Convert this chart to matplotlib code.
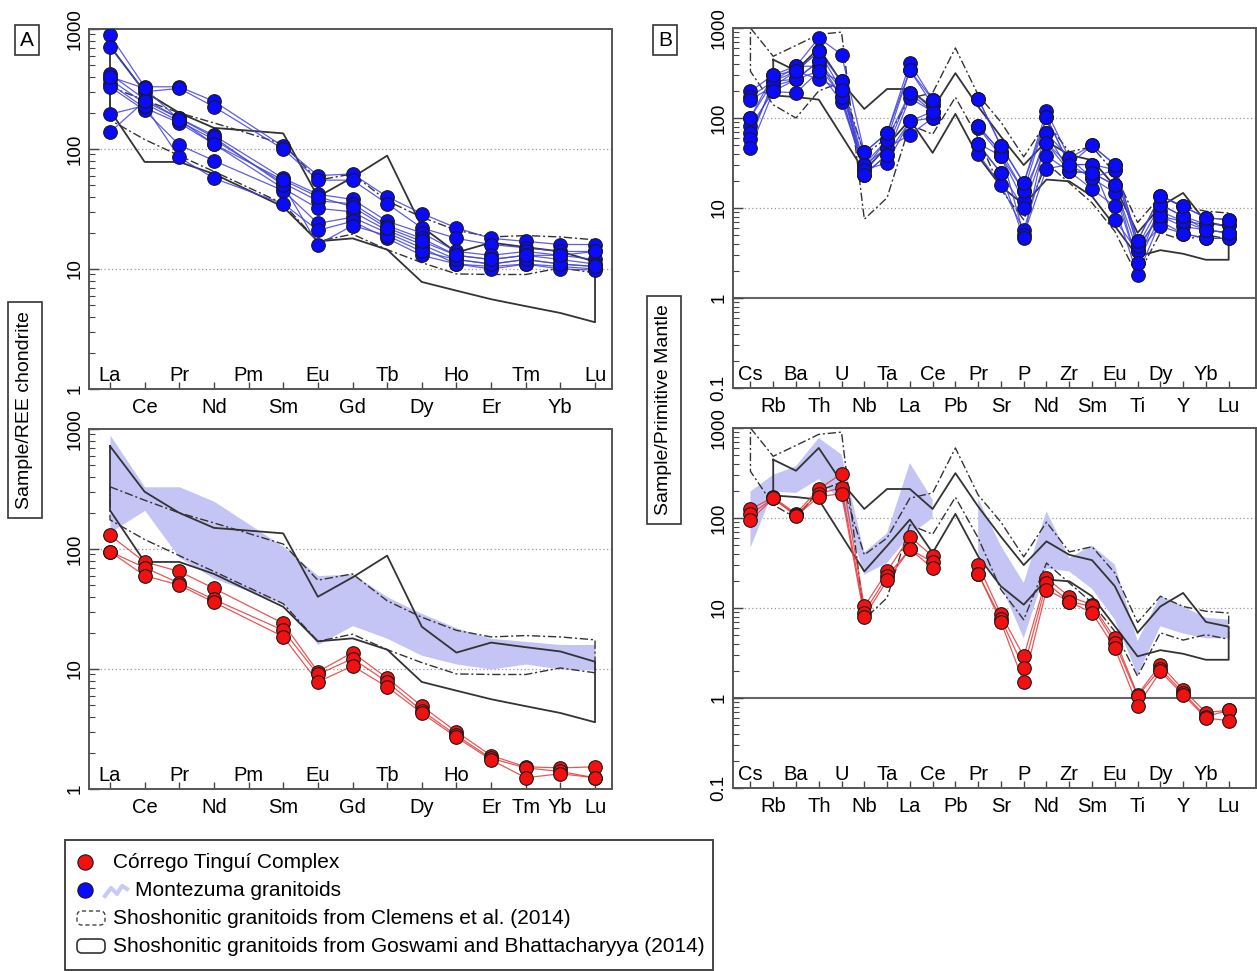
import numpy as np
import matplotlib.pyplot as plt
from matplotlib.ticker import LogLocator, NullFormatter
from matplotlib.patches import Rectangle, FancyBboxPatch

plt.rcParams['font.family'] = ['Liberation Sans', 'DejaVu Sans']

nan = np.nan
W, H = 1257, 971

# ---------------- REE, chondrite normalised (panel A) ----------------
ree = ['La', 'Ce', 'Pr', 'Nd', 'Pm', 'Sm', 'Eu', 'Gd', 'Tb', 'Dy', 'Ho', 'Er', 'Tm', 'Yb', 'Lu']

# Montezuma granitoids
mz_ree = [
    [890, 330, 330, 250, nan, 105, 60, 62, 40, 29, 22, 18, 17, 16, 16],
    [710, 300, 320, 225, nan, 100, 55, 55, 35, 22, 18, 16, 15, 14, 14],
    [420, 260, 180, 130, nan, 57, 42, 38, 25, 20, 14, 13, 14, 13, 12],
    [380, 240, 170, 120, nan, 52, 37, 35, 23, 18, 13, 12, 13, 12, 11],
    [350, 220, 165, 110, nan, 47, 32, 30, 21, 16, 12, 11, 12, 11, 10.5],
    [330, 210, 108, 80, nan, 45, 24, 27, 20, 15, 11, 10.5, 11, 10.5, 10],
    [195, 230, 85, 57, nan, 35, 21, 25, 18, 13, 11, 10, 11, 10, 9.8],
    [138, 250, 180, 125, nan, 50, 16, 23, 19, 14, 12, 11, 12, 11, 10.5],
    [400, 320, 175, 110, nan, 55, 40, 33, 22, 17, 13, 12, 13, 13, 14],
]

# Corrego Tingui Complex
ct_ree = [
    [130, 78, 65, 47, nan, 24, 9.5, 13.7, 8.4, 4.9, 3.0, 1.9, 1.53, 1.5, 1.53],
    [95, 70, 52, 38, nan, 21, 9.0, 12.2, 7.8, 4.5, 2.8, 1.8, 1.5, 1.4, 1.24],
    [95, 60, 50, 36, nan, 18.6, 7.8, 10.6, 7.1, 4.3, 2.7, 1.75, 1.24, 1.34, 1.24],
]

# envelopes (upper / lower)
cl_ree_hi = [330, 255, 200, 165, nan, 110, 55, 62, 37, 27, 21, 18.5, 19, 18.5, 17.5]
cl_ree_lo = [175, 120, 88, 65, nan, 35, 17, 19.5, 14.5, 11.3, 9.1, 9, 9, 10.2, 9.3]
gb_ree_hi = [720, 300, 200, 150, nan, 135, 40, 58, 88, 22.5, 13.7, 16.6, 15.2, 14, 11.5]
gb_ree_lo = [210, 78, 78, 62, nan, 33, 17, 18, 14.5, 7.8, 6.6, 5.6, 4.9, 4.3, 3.6]

# ---------------- Spider, primitive mantle normalised (panel B) ----------------
spd = ['Cs', 'Rb', 'Ba', 'Th', 'U', 'Nb', 'Ta', 'La', 'Ce', 'Pb', 'Pr',
       'Sr', 'P', 'Nd', 'Zr', 'Sm', 'Eu', 'Ti', 'Dy', 'Y', 'Yb', 'Lu']

mz_spd = [
    [197, 302, 376, 775, 507, 41.5, 68, 407, 160, nan, 164, 49, 19, 119, 36, 49.5, 30.4, 4.3, 13.7, 10.4, 7.8, 7.4],
    [173, 255, 330, 550, 255, 30.4, 57.5, 339, 140, nan, 81, 42.4, 15.3, 101.7, 30.4, 30.4, 26.7, 3.74, 10.9, 8.1, 6.6, 6.5],
    [160, 225, 270, 425, 205, 26.7, 46.5, 190, 118, nan, 78, 38, 11.9, 68, 25.5, 24.5, 18, 3.3, 9.2, 7.1, 5.7, 5.3],
    [101, 255, 376, 376, 173, 23.5, 39.2, 167, 118, nan, 50.5, 24.5, 10, 52.6, 30.4, 21.5, 14.7, 2.45, 8.1, 6.25, 5.7, 5.3],
    [81, 197, 190, 330, 152, 26.7, 31.6, 92, 100, nan, 40, 18, 5.7, 38, 25.5, 16.3, 10.4, 1.8, 7.1, 5.2, 4.6, 4.6],
    [68, 225, 330, 270, 205, 30.4, 46.5, 65, 100, nan, 81, 42, 5.05, 27.3, 30.4, 30.4, 7.4, 3.3, 6.25, 5.2, 4.6, 4.6],
    [58, 255, 270, 425, 173, 26.7, 57.5, 190, 140, nan, 52, 24.5, 4.6, 68, 36, 21.5, 26.7, 3.74, 8.1, 7.1, 6.6, 6.5],
    [46.5, 197, 270, 330, 255, 23.5, 39.2, 92, 118, nan, 52, 38, 15.3, 52.6, 25.5, 24.5, 18, 2.45, 10.9, 8.1, 5.7, 5.3],
    [101, 302, 330, 550, 205, 41.5, 68, 339, 160, nan, 164, 49, 19, 101.7, 30.4, 49.5, 30.4, 4.3, 13.7, 10.4, 7.8, 7.4],
]

ct_spd = [
    [125, 170, 112, 210, 310, 10.4, 25.5, 62, 37.5, nan, 30, 8.5, 2.9, 21.5, 13.4, 10.9, 4.6, 1.09, 2.35, 1.24, 0.69, 0.73],
    [110, 165, 108, 187, 217, 8.9, 22.5, 45, 32.4, nan, 24, 7.6, 2.15, 19, 11.8, 10.4, 4.1, 1.05, 2.1, 1.15, 0.62, 0.73],
    [95, 165, 105, 172, 187, 8.0, 20.3, 45, 27.8, nan, 24, 7.0, 1.49, 16, 11.8, 8.8, 3.6, 0.82, 1.97, 1.09, 0.6, 0.56],
]

cl_spd_hi = [1000, 485, 640, 850, 900, 7.5, 13, 84, 66, 170, 60, 16, 7.4, 31.6, 19, 11.4, 5.5, 1.74, 5.3, 4.4, 5.05, 4.5]
cl_spd_lo = [330, 140, 100, 200, 250, 39, 60, 166, 190, 600, 180, 90, 37, 90, 42, 48, 24.5, 6.9, 13.5, 10.4, 9.2, 8.8]
gb_spd_hi = [nan, 445, 335, 600, 250, 126, 210, 210, 126, 315, 134, 62, 30, 55, 39, 34, 17.5, 5.3, 10.4, 14.7, 7, 6.2]
gb_spd_lo = [nan, 178, 171, 160, 64, 25.5, 49, 96, 41, 111, 37.5, 17.4, 10.9, 20.7, 19.8, 13.5, 6.3, 2.9, 3.4, 3.1, 2.66, 2.66]

# ---------------- styles ----------------
blue_line = '#4242dc'
blue_face = '#0a0aff'
red_line = '#e43a3a'
red_face = '#f21010'
field_col = '#c4c5f5'
env_col = '#333333'

fig = plt.figure(figsize=(W / 100, H / 100), dpi=100)


def add_ax(left, top, right, bottom):
    return fig.add_axes([left / W, 1 - bottom / H, (right - left) / W, (bottom - top) / H])


def setup(ax, labels, inside, xlim, yticks, yticklabels, height_px, one_line=False):
    ax.set_yscale('log')
    ax.set_ylim(yticks[0], yticks[-1])
    ax.set_xlim(*xlim)
    ax.set_xticks(range(len(labels)))
    ax.set_xticklabels([])
    ax.tick_params(axis='x', direction='in', length=5, width=1, colors='#444')
    ax.set_yticks(yticks)
    ax.set_yticklabels(yticklabels, rotation=90, va='center', fontsize=13.5)
    ax.yaxis.set_minor_locator(LogLocator(base=10, subs=range(2, 10)))
    ax.yaxis.set_minor_formatter(NullFormatter())
    ax.tick_params(axis='y', which='major', direction='in', length=7, width=1, colors='#444', pad=4)
    ax.tick_params(axis='y', which='minor', direction='in', length=4, width=0.8, colors='#444')
    ax.tick_params(axis='y', labelcolor='black')
    for s in ax.spines.values():
        s.set_color('#555555')
        s.set_linewidth(1.4)
    for v in (10, 100):
        ax.axhline(v, color='#999999', lw=0.9, ls=(0, (1, 2)), zorder=0.5)
    if one_line:
        ax.axhline(1, color='#666666', lw=1.5, zorder=0.5)
    for i, lab in enumerate(labels):
        if i in inside:
            ax.text(i, 14 / height_px, lab, transform=ax.get_xaxis_transform(),
                    ha='center', va='center', fontsize=14.5)
        else:
            ax.text(i, -18 / height_px, lab, transform=ax.get_xaxis_transform(),
                    ha='center', va='center', fontsize=14.5)


def envelope(ax, hi, lo, **kw):
    hi = np.array(hi, dtype=float)
    lo = np.array(lo, dtype=float)
    x = np.arange(len(hi))
    m = ~np.isnan(hi) & ~np.isnan(lo)
    xs = np.concatenate([x[m], x[m][::-1], x[m][:1]])
    ys = np.concatenate([hi[m], lo[m][::-1], hi[m][:1]])
    ax.plot(xs, ys, **kw)


def envelopes(ax, cl_hi, cl_lo, gb_hi, gb_lo):
    envelope(ax, cl_hi, cl_lo, color=env_col, lw=1.0, dashes=(6, 2, 1.5, 2), zorder=2)
    envelope(ax, gb_hi, gb_lo, color=env_col, lw=1.3, zorder=2)


def samples(ax, data, lcol, fcol, skip_gaps):
    x = np.arange(len(data[0]))
    for s in data:
        y = np.array(s, dtype=float)
        if skip_gaps:
            m = ~np.isnan(y)
            ax.plot(x[m], y[m], color=lcol, lw=0.9, alpha=0.85, zorder=3)
        else:
            ax.plot(x, y, color=lcol, lw=0.9, alpha=0.85, zorder=3)
    for s in data:
        y = np.array(s, dtype=float)
        ax.plot(x, y, 'o', ms=9.8, mfc=fcol, mec='#1a1a1a', mew=0.8, zorder=4)


def field(data):
    arr = np.array(data, dtype=float)
    x = np.arange(arr.shape[1])
    lo = np.full(arr.shape[1], nan)
    hi = np.full(arr.shape[1], nan)
    cols = ~np.all(np.isnan(arr), axis=0)
    lo[cols] = np.nanmin(arr[:, cols], axis=0)
    hi[cols] = np.nanmax(arr[:, cols], axis=0)
    return x, lo, hi


# ---------------- Panel A top ----------------
axA1 = add_ax(89, 29, 612, 389)
setup(axA1, ree, [0, 2, 4, 6, 8, 10, 12, 14], (-0.606, 14.49),
      [1, 10, 100, 1000], ['1', '10', '100', '1000'], 360)
envelopes(axA1, cl_ree_hi, cl_ree_lo, gb_ree_hi, gb_ree_lo)
samples(axA1, mz_ree, blue_line, blue_face, True)

# ---------------- Panel A bottom ----------------
axA2 = add_ax(89, 429, 612, 789)
setup(axA2, ree, [0, 2, 4, 6, 8, 10], (-0.606, 14.49),
      [1, 10, 100, 1000], ['1', '10', '100', '1000'], 360)
x, lo, hi = field(mz_ree)
m = ~np.isnan(lo)
axA2.fill_between(x[m], lo[m], hi[m], color=field_col, lw=0, zorder=1)
envelopes(axA2, cl_ree_hi, cl_ree_lo, gb_ree_hi, gb_ree_lo)
samples(axA2, ct_ree, red_line, red_face, True)

# ---------------- Panel B top ----------------
binside = list(range(0, 22, 2))
axB1 = add_ax(733, 28, 1256, 388)
setup(axB1, spd, binside, (-0.766, 22.2),
      [0.1, 1, 10, 100, 1000], ['0.1', '1', '10', '100', '1000'], 360, one_line=True)
envelopes(axB1, cl_spd_hi, cl_spd_lo, gb_spd_hi, gb_spd_lo)
samples(axB1, mz_spd, blue_line, blue_face, False)

# ---------------- Panel B bottom ----------------
axB2 = add_ax(733, 428, 1256, 788)
setup(axB2, spd, binside, (-0.766, 22.2),
      [0.1, 1, 10, 100, 1000], ['0.1', '1', '10', '100', '1000'], 360, one_line=True)
x, lo, hi = field(mz_spd)
axB2.fill_between(x, lo, hi, color=field_col, lw=0, zorder=1)
envelopes(axB2, cl_spd_hi, cl_spd_lo, gb_spd_hi, gb_spd_lo)
samples(axB2, ct_spd, red_line, red_face, False)

# ---------------- labels ----------------
box = dict(boxstyle='square,pad=0.45', fc='white', ec='#333333', lw=1.2)
fig.text(25 / W, 1 - 410 / H, 'Sample/REE chondrite', rotation=90,
         ha='center', va='center', fontsize=14, bbox=box)
fig.text(664 / W, 1 - 410 / H, 'Sample/Primitive Mantle', rotation=90,
         ha='center', va='center', fontsize=14, bbox=box)
lbox = dict(boxstyle='square,pad=0.25', fc='white', ec='#333333', lw=1.2)
fig.text(27 / W, 1 - 40 / H, 'A', ha='center', va='center', fontsize=15, bbox=lbox)
fig.text(665 / W, 1 - 40 / H, 'B', ha='center', va='center', fontsize=15, bbox=lbox)

# ---------------- legend ----------------
lg = fig.add_axes([65 / W, 1 - 970 / H, 648 / W, 130 / H])
lg.set_xlim(0, 648)
lg.set_ylim(130, 0)
lg.axis('off')
lg.add_patch(Rectangle((0, 0), 648, 130, fill=False, ec='#444444', lw=1.4, clip_on=False))
lg.plot([20], [22], 'o', ms=11, mfc=red_face, mec='#1a1a1a', mew=0.8)
lg.text(48, 22, 'Córrego Tinguí Complex', va='center', fontsize=15)
lg.plot([20], [50], 'o', ms=11, mfc=blue_face, mec='#1a1a1a', mew=0.8)
lg.plot([40, 46, 52, 57, 62], [56, 48, 54, 46, 49], color='#c9caf6', lw=3)
lg.text(70, 50, 'Montezuma granitoids', va='center', fontsize=15)
lg.add_patch(FancyBboxPatch((14, 73), 24, 10, boxstyle='round,pad=2,rounding_size=5',
                            fill=False, ec='#444444', lw=1.0, ls=(0, (3, 2))))
lg.text(48, 78, 'Shoshonitic granitoids from Clemens et al. (2014)', va='center', fontsize=15)
lg.add_patch(FancyBboxPatch((14, 101), 24, 10, boxstyle='round,pad=2,rounding_size=5',
                            fill=False, ec='#333333', lw=1.2))
lg.text(48, 106, 'Shoshonitic granitoids from Goswami and Bhattacharyya (2014)', va='center', fontsize=15)

fig.savefig('out.png', dpi=100)
